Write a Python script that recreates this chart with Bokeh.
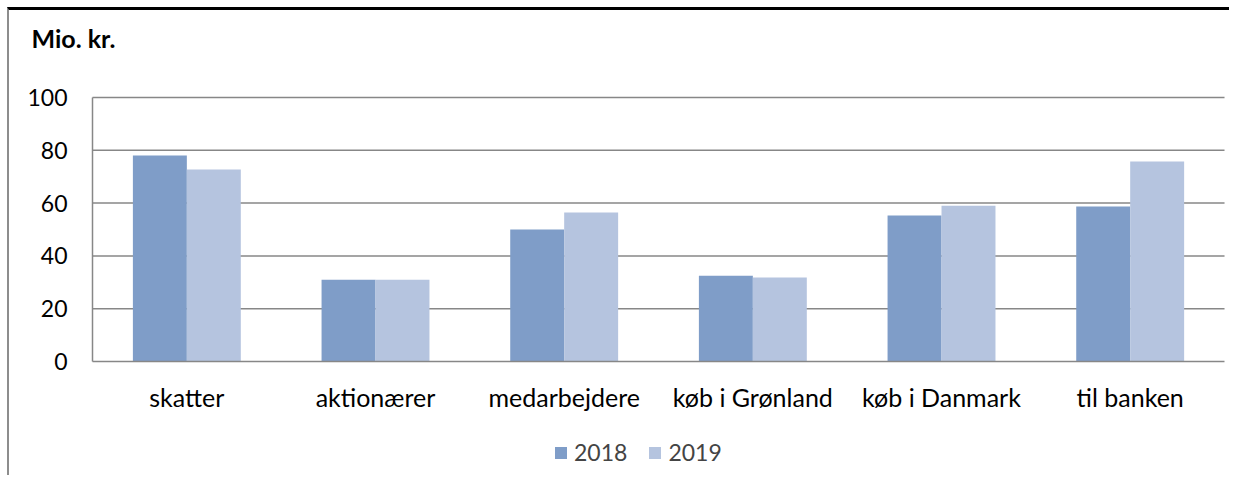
import numpy as np
from bokeh.plotting import figure
from bokeh.models import ColumnDataSource, Legend, LegendItem, FixedTicker, Label, Range1d
from bokeh.embed import file_html
from bokeh.resources import INLINE

categories = ["skatter", "aktionærer", "medarbejdere", "køb i Grønland", "køb i Danmark", "til banken"]
v2018 = [78.0, 31.0, 50.0, 32.5, 55.3, 58.7]
v2019 = [72.7, 31.0, 56.4, 31.8, 59.0, 75.8]
years = ["2018", "2019"]
y_ticks = [0, 20, 40, 60, 80, 100]
unit_label = "Mio. kr."

FONT = "Lato"
GRID = "#878787"
C2018 = "#7F9DC8"
C2019 = "#B5C4DF"

n = len(categories)
pos = np.arange(n)
bw = 0.286
src = ColumnDataSource(dict(x1=pos - bw / 2, x2=pos + bw / 2, v2018=v2018, v2019=v2019))

# the frame fills the whole canvas; both axes are fixed inside it
p = figure(width=1222, height=468, x_range=Range1d(-0.94, n - 0.5 + 0.037),
           y_range=Range1d(-44.3, 132.95),
           output_backend="svg", toolbar_location=None,
           min_border_left=0, min_border_right=0, min_border_top=0, min_border_bottom=0)
p.styles = {"border-top": "3px solid black", "border-left": "2px solid #8d8d8d",
            "margin-left": "7px", "margin-top": "7px"}
p.outline_line_color = None
p.background_fill_color = "white"
p.border_fill_color = "white"
p.title.text = ""

# horizontal grid lines over the category span only
p.segment(x0=-0.5, x1=n - 0.5, y0=y_ticks[1:], y1=y_ticks[1:], line_color=GRID, line_width=1.5)

r1 = p.vbar(x="x1", top="v2018", width=bw, source=src, fill_color=C2018, line_color=None)
r2 = p.vbar(x="x2", top="v2019", width=bw, source=src, fill_color=C2019, line_color=None)

p.xgrid.visible = False
p.ygrid.visible = False

p.yaxis.ticker = FixedTicker(ticks=y_ticks)
p.yaxis.bounds = (y_ticks[0], y_ticks[-1])
p.yaxis.fixed_location = -0.5
p.xaxis.ticker = FixedTicker(ticks=list(range(n)))
p.xaxis.major_label_overrides = {i: c for i, c in enumerate(categories)}
p.xaxis.bounds = (-0.5, n - 0.5)
p.xaxis.fixed_location = 0

for ax in (p.xaxis[0], p.yaxis[0]):
    ax.axis_line_color = GRID
    ax.axis_line_width = 1.5
    ax.major_tick_line_color = None
    ax.minor_tick_line_color = None
    ax.major_tick_in = 0
    ax.major_tick_out = 0
    ax.major_label_text_font = FONT
    ax.major_label_text_font_size = "23px"
    ax.major_label_text_color = "black"
p.yaxis.major_label_standoff = 25
p.xaxis.major_label_standoff = 20
p.xaxis.major_label_text_font_size = "25px"

title = Label(x=-0.823, y=122.4, text=unit_label, text_font=FONT, text_font_size="25px",
              text_font_style="bold", text_color="black", text_baseline="alphabetic")
p.add_layout(title)

legend = Legend(items=[LegendItem(label=years[0], renderers=[r1]),
                       LegendItem(label=years[1], renderers=[r2])],
                orientation="horizontal", location=(544, 12),
                label_text_font=FONT, label_text_font_size="23px",
                glyph_width=15, glyph_height=15, label_standoff=6, spacing=20,
                padding=0, margin=0, border_line_color=None, background_fill_alpha=0)
p.add_layout(legend, "center")

open("out.html", "w").write(file_html(p, INLINE))
